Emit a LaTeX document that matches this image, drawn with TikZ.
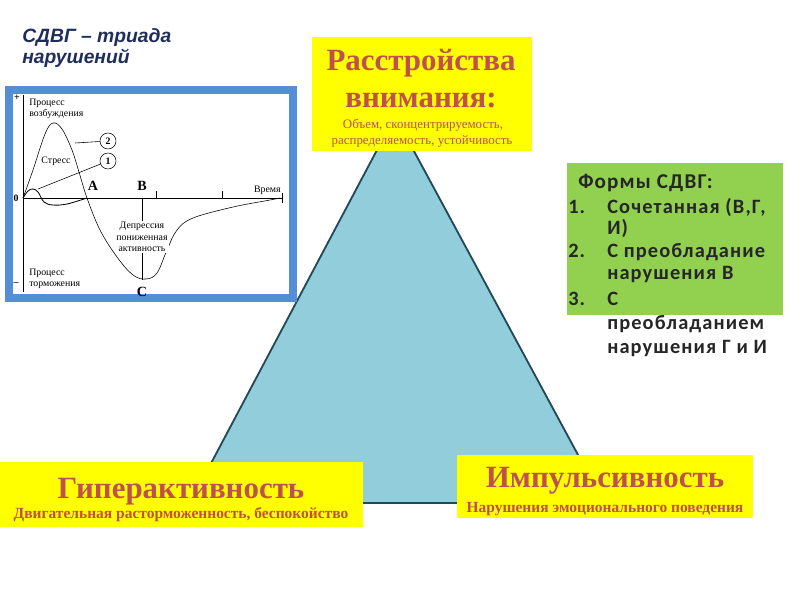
\documentclass[tikz,border=0pt]{standalone}
\usepackage{fontspec}
\setmainfont{Liberation Serif}
\newfontfamily\calibrifont[LetterSpace=5.5]{Carlito}
\newfontfamily\arialfont{Liberation Sans}

\definecolor{boxyellow}{RGB}{255,255,0}
\definecolor{titlered}{RGB}{192,80,77}
\definecolor{formgreen}{RGB}{146,208,80}
\definecolor{trifill}{RGB}{146,205,220}
\definecolor{triline}{RGB}{35,72,86}
\definecolor{frameblue}{RGB}{85,142,213}
\definecolor{titlenavy}{RGB}{31,45,90}

\tikzset{
  yellowbox/.style={fill=boxyellow, draw=none, inner sep=0pt},
  bigtitle/.style={font=\fontsize{22}{26}\selectfont\bfseries, text=titlered, inner sep=0pt, anchor=base},
  subtitle/.style={font=\fontsize{11}{13}\selectfont\bfseries, text=titlered, inner sep=0pt, anchor=base},
  smalltext/.style={font=\fontsize{9.2}{11}\selectfont, text=titlered, inner sep=0pt, anchor=base},
  formtext/.style={font=\calibrifont\fontsize{14.5}{17}\selectfont\bfseries, text=black!85, inner sep=0pt, anchor=base west},
  headtext/.style={font=\arialfont\fontsize{13.7}{16}\selectfont\bfseries\itshape, text=titlenavy, inner sep=0pt, anchor=base west},
  plotlabel/.style={font=\fontsize{7}{8}\selectfont, inner sep=0pt},
  pointlabel/.style={font=\fontsize{10}{12}\selectfont\bfseries, inner sep=0pt},
  marker/.style={draw, circle, inner sep=0pt, minimum size=0.4cm, font=\fontsize{7}{8}\selectfont\bfseries},
}

\begin{document}
\begin{tikzpicture}[x=0.025cm, y=-0.025cm]
\useasboundingbox (0,0) rectangle (800,600);

\coordinate (apex) at (395,116);
\coordinate (lcorner) at (190,503);
\coordinate (rcorner) at (604,503);
\filldraw[fill=trifill, draw=triline, line width=1.3pt] (apex) -- (lcorner) -- (rcorner) -- cycle;

\node[headtext] (head1) at (22,42) {СДВГ – триада};
\node[headtext] (head2) at (22,63) {нарушений};

\node[draw=frameblue, fill=white, line width=0.2cm, minimum width=7.1cm, minimum height=5.2cm, inner sep=0pt] (graph) at (151,194) {};
\draw (23,95) -- (23,292);
\draw (23,198) -- (282,198);
\draw (156,191) -- (156,198);
\draw (222,191) -- (222,198);
\draw (282,193) -- (282,203);
\draw[thin] plot[smooth, tension=0.6] coordinates {(23,198) (33,170) (45,134) (53,123) (62,129) (72,150) (79,172) (87,198) (100,230) (117,257) (133,275) (146,279) (157,273) (167,250) (177,230) (193,218) (233,207) (270,200) (280,198)};
\draw[semithick] plot[smooth, tension=0.6] coordinates {(23,198) (28,191) (33,189) (38,192) (44,202) (53,205) (67,204) (87,198)};
\node[plotlabel, anchor=base west] (exc1) at (29,105) {Процесс};
\node[plotlabel, anchor=base west] (exc2) at (29,116) {возбуждения};
\node[plotlabel, anchor=base west] (inh1) at (29,275) {Процесс};
\node[plotlabel, anchor=base west] (inh2) at (29,286) {торможения};
\node[plotlabel] (stress) at (56,161) {Стресс};
\node[plotlabel, anchor=base east] (time) at (281,192) {Время};
\node[plotlabel, font=\fontsize{7}{8}\selectfont\bfseries] (plus) at (17,98) {+};
\node[plotlabel, font=\fontsize{7}{8}\selectfont\bfseries] (zero) at (16,198) {0};
\node[plotlabel, font=\fontsize{7}{8}\selectfont\bfseries] (minus) at (16,284) {–};
\node[pointlabel] (ptA) at (93,186) {A};
\node[pointlabel] (ptB) at (142,186) {B};
\node[pointlabel] (ptC) at (142,292) {C};
\draw (142,198) -- (142,280);
\node[plotlabel, fill=white, align=center, inner sep=1pt] (depr) at (142,237) {Депрессия\\пониженная\\активность};
\node[marker] (m2) at (108,141) {2};
\node[marker] (m1) at (108,161) {1};
\coordinate (p2) at (75,143);
\coordinate (p1) at (38,189);
\draw (m2) -- (p2);
\draw (m1) -- (p1);

\node[yellowbox, minimum width=5.5cm, minimum height=2.85cm] (attnbox) at (422,94) {};
\node[bigtitle] (attn1) at (421,70) {Расстройства};
\node[bigtitle] (attn2) at (421,107) {внимания:};
\node[smalltext] (attn3) at (423,128) {Объем, сконцентрируемость,};
\node[smalltext] (attn4) at (422,144) {распределяемость, устойчивость};

\node[fill=formgreen, minimum width=5.4cm, minimum height=3.8cm, inner sep=0pt] (formbox) at (675,239) {};
\node[formtext, font=\calibrifont\fontsize{15}{18}\selectfont\bfseries] (formhead) at (578,188) {Формы СДВГ:};
\node[formtext] (n1) at (568,213) {1.};
\node[formtext] (n2) at (568,257) {2.};
\node[formtext] (n3) at (568,305) {3.};
\foreach \yy/\txt in {213/{Сочетанная (В,Г,}, 234/{И)}, 257/{С преобладание}, 279/{нарушения В}, 305/{С}, 329/{преобладанием}, 353/{нарушения Г и И}}
  \node[formtext] at (607,\yy) {\txt};

\node[yellowbox, minimum width=9.075cm, minimum height=1.625cm] (hyperbox) at (181.5,494.5) {};
\node[bigtitle] (hyper1) at (181,498) {Гиперактивность};
\node[subtitle] (hyper2) at (181,518) {Двигательная расторможенность, беспокойство};

\node[yellowbox, minimum width=7.4cm, minimum height=1.575cm] (impbox) at (605,486.5) {};
\node[bigtitle] (imp1) at (605,487) {Импульсивность};
\node[subtitle] (imp2) at (605,512) {Нарушения эмоционального поведения};
\end{tikzpicture}
\end{document}
